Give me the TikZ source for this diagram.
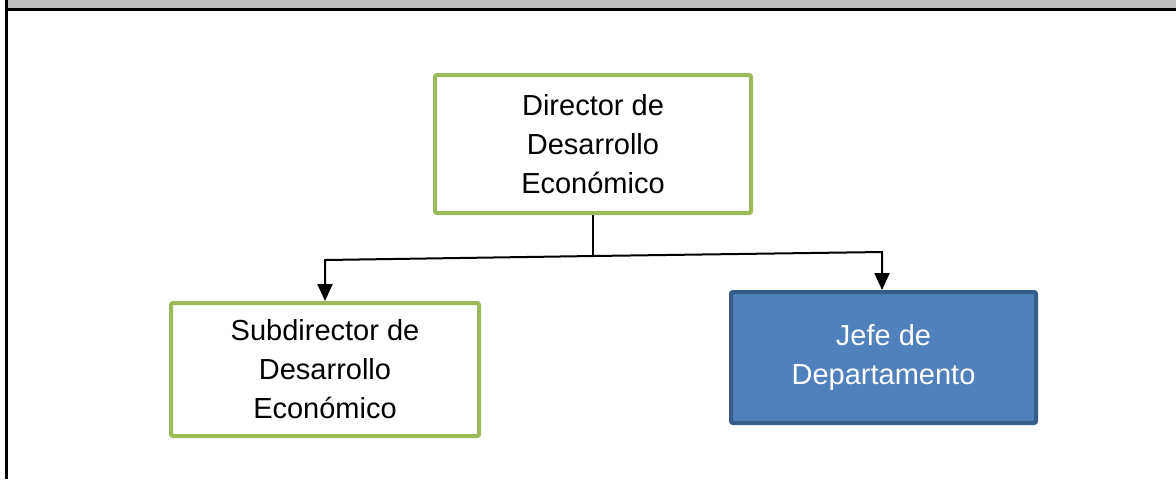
\documentclass[tikz,border=0pt]{standalone}
\usepackage{fontspec}
\setmainfont{Liberation Sans}
\usetikzlibrary{arrows.meta}

\definecolor{verde}{HTML}{9BBB59}
\definecolor{azul}{HTML}{4F81BD}
\definecolor{azulborde}{HTML}{385D8A}
\definecolor{gris}{HTML}{BFBFBF}

\tikzset{
	cargo/.style={draw=verde, line width=2pt, fill=white, rounded corners=1pt, align=center,
		font=\fontsize{14.5}{19.5}\selectfont, inner sep=0pt},
	jefebox/.style={draw=azulborde, line width=2pt, fill=azul, text=white, rounded corners=1pt,
		align=center, font=\fontsize{14.5}{19.5}\selectfont, inner sep=0pt},
	flecha/.style={line width=1pt, -{Triangle[length=8.5pt,width=7.5pt]}}
}

\begin{document}
\begin{tikzpicture}[x=0.5pt, y=-0.5pt]
		\useasboundingbox (0,0) rectangle (1176,479);
		% marco de la tabla
		\fill[gris] (7,0) rectangle (1176,8);
		\draw[line width=1.5pt] (5,9) -- (1176,9);
		\draw[line width=1.5pt] (6,0) -- (6,479);
		
		\node[cargo, minimum width=158pt, minimum height=69pt] (dir) at (593,144)
			{Director de\\Desarrollo\\Económico};
		\node[cargo, minimum width=154pt, minimum height=66.5pt] (sub) at (325,369.5)
			{Subdirector de\\Desarrollo\\Económico};
		\node[jefebox, minimum width=152.5pt, minimum height=65.5pt] (jefe) at (883.5,357.5)
			{Jefe de\\Departamento};
		
		\coordinate (mid) at (593,256);
		\coordinate (izq) at (325,260);
		\coordinate (der) at (882,252);
		
		\draw[line width=1pt] (dir.south) -- (mid);
		\draw[flecha] (mid) -- (izq) -- (izq |- sub.north);
		\draw[flecha] (mid) -- (der) -- (der |- jefe.north);
		\end{tikzpicture}
\end{document}
